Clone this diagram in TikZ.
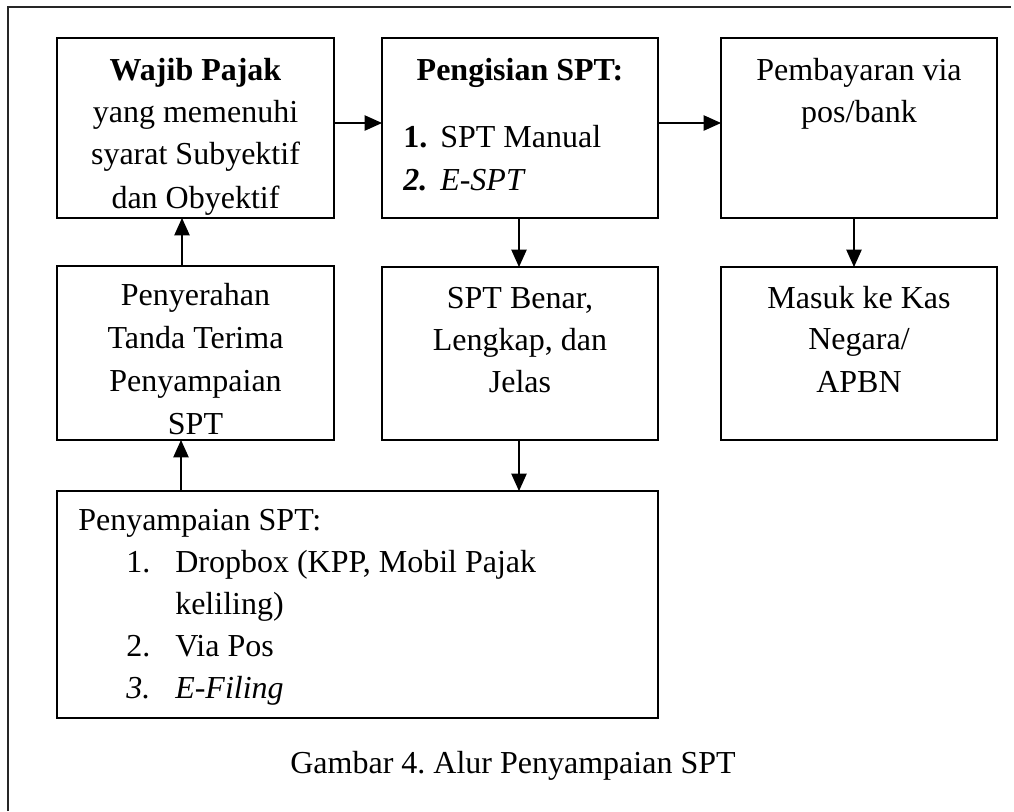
\documentclass[tikz,border=0pt]{standalone}
\usepackage{fontspec}
\setmainfont{Liberation Serif}
\usetikzlibrary{arrows.meta,positioning,fit}

\tikzset{
    kotak/.style={draw, line width=1.3pt, inner sep=0pt, outer sep=0pt},
    teks/.style={anchor=base, inner sep=0pt, font=\fontsize{24}{31.5}\selectfont},
    teksl/.style={teks, anchor=base west},
    panah/.style={line width=0.9pt, -{Triangle[length=13pt,width=11.5pt]}},
}

\begin{document}
\frenchspacing
\begin{tikzpicture}[x=0.75pt,y=0.75pt,yscale=-1,xscale=1]
        \useasboundingbox (0,0) rectangle (1014,811);
        % bingkai luar
        \draw [line width=0.8pt, black!85] (8,811) -- (8,7) -- (1011,7);

        % kotak
        \node [kotak, fit={(57,38) (334,218)}] (wp) {};
        \node [kotak, fit={(382,38) (658,218)}] (isi) {};
        \node [kotak, fit={(721,38) (997,218)}] (bayar) {};
        \node [kotak, fit={(57,266) (334,440)}] (terima) {};
        \node [kotak, fit={(382,267) (658,440)}] (benar) {};
        \node [kotak, fit={(721,267) (997,440)}] (kas) {};
        \node [kotak, fit={(57,491) (658,718)}] (sampai) {};

        % isi kotak
        \begin{scope}
            \clip (wp.north west) rectangle ([yshift=8.25pt]wp.south east);
            \node [teks] (wp0) at (195.5,80) {\textbf{Wajib Pajak}};
            \foreach \y/\t [count=\i] in {122/yang memenuhi,164.5/syarat Subyektif,208/dan Obyektif}{
                \node [teks] (wp\i) at (195.5,\y) {\t};
            }
        \end{scope}

        \node [teks] (isi0) at (520,80) {\textbf{Pengisian SPT:}};
        \node [teksl] (isi1n) at (403,147) {\textbf{1.}};
        \node [teksl] (isi1) at (440,147) {SPT Manual};
        \node [teksl] (isi2n) at (403,190) {\textbf{\textit{2.}}};
        \node [teksl] (isi2) at (440,190) {\textit{E-SPT}};

        \foreach \y/\t [count=\i] in {80/{Pembayaran via},122/{pos/bank}}{
            \node [teks] (bayar\i) at (859,\y) {\t};
        }

        \begin{scope}
            \clip (terima.north west) rectangle ([yshift=8.25pt]terima.south east);
            \foreach \y/\t [count=\i] in {305/Penyerahan,348/Tanda Terima,391/Penyampaian,434/SPT}{
                \node [teks] (terima\i) at (195.5,\y) {\t};
            }
        \end{scope}

        \foreach \y/\t [count=\i] in {308/{SPT Benar,},350/{Lengkap, dan},392/Jelas}{
            \node [teks] (benar\i) at (520,\y) {\t};
        }
        \foreach \y/\t [count=\i] in {308/{Masuk ke Kas},349/{Negara/},392/APBN}{
            \node [teks] (kas\i) at (859,\y) {\t};
        }

        \node [teksl] (sampai0) at (78,530) {Penyampaian SPT:};
        \node [teksl] (sampai1n) at (126,572) {1.};
        \node [teksl] (sampai1) at (175,572) {Dropbox (KPP, Mobil Pajak};
        \node [teksl] (sampai1b) at (175,614) {keliling)};
        \node [teksl] (sampai2n) at (126,656) {2.};
        \node [teksl] (sampai2) at (175,656) {Via Pos};
        \node [teksl] (sampai3n) at (126,698) {\textit{3.}};
        \node [teksl] (sampai3) at (175,698) {\textit{E-Filing}};

        \node [teks] (judul) at (513,773) {Gambar 4. Alur Penyampaian SPT};

        % panah
        \draw [panah] ([yshift=-3.75pt]wp.east) -- ([yshift=-3.75pt]isi.west);
        \draw [panah] ([yshift=-3.75pt]isi.east) -- ([yshift=-3.75pt]bayar.west);
        \draw [panah] ([xshift=-0.75pt]isi.south) -- ([xshift=-0.75pt]benar.north);
        \draw [panah] ([xshift=-3.75pt]bayar.south) -- ([xshift=-3.75pt]kas.north);
        \draw [panah] ([xshift=-0.75pt]benar.south) -- ([xshift=-0.75pt]benar.south |- sampai.north);
        \draw [panah] (sampai.north -| 181,0) -- (terima.south -| 181,0);
        \draw [panah] (terima.north -| 182,0) -- (wp.south -| 182,0);
\end{tikzpicture}
\end{document}
